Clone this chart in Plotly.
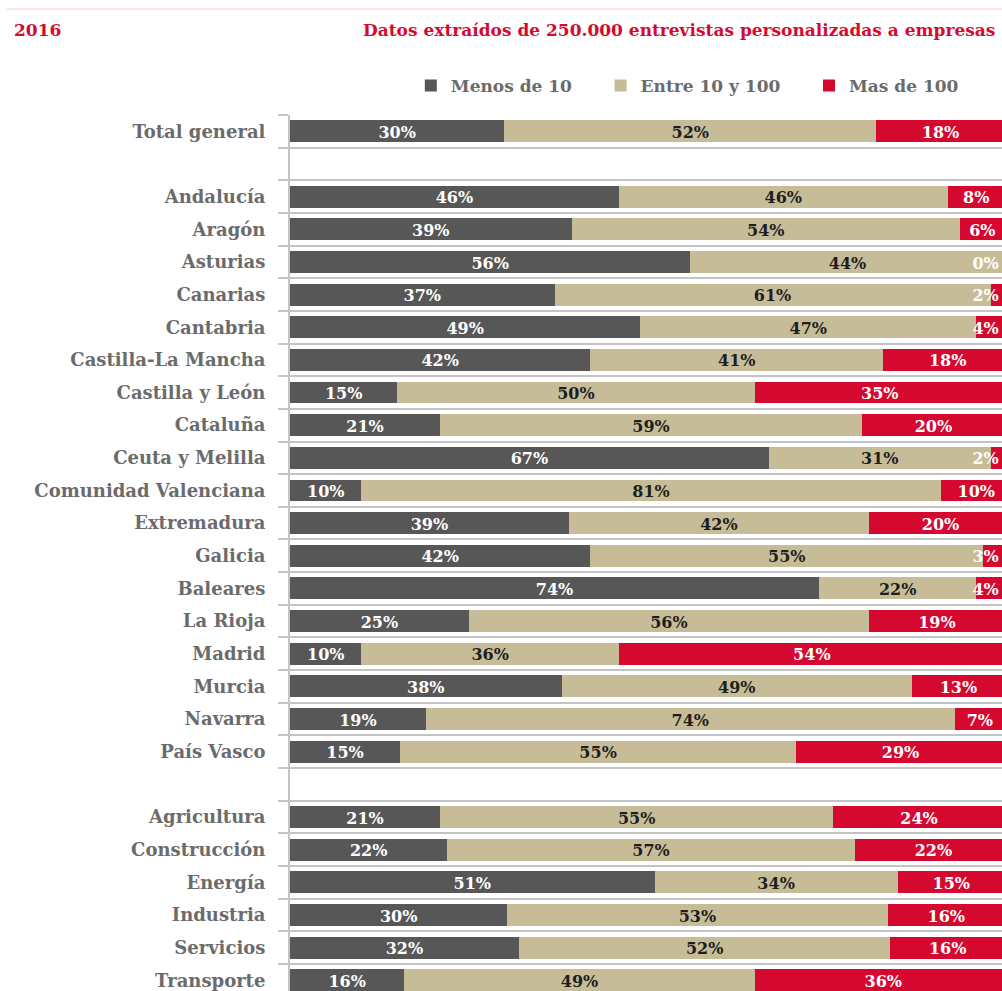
import plotly.graph_objects as go

categories = ["Total general", "", "Andalucía", "Aragón", "Asturias", "Canarias", "Cantabria",
              "Castilla-La Mancha", "Castilla y León", "Cataluña", "Ceuta y Melilla",
              "Comunidad Valenciana", "Extremadura", "Galicia", "Baleares", "La Rioja",
              "Madrid", "Murcia", "Navarra", "País Vasco", "", "Agricultura", "Construcción",
              "Energía", "Industria", "Servicios", "Transporte"]
menos_10 = [30, None, 46, 39.4, 56, 37, 49, 42, 15, 21, 67, 10, 39, 42, 74, 25, 10, 38, 19, 15.4,
            None, 21, 22, 51, 30.4, 32, 16]
entre_10_100 = [52, None, 46, 54.3, 44, 61, 47, 41, 50, 59, 31, 81, 42, 55, 22, 56, 36, 49, 74, 55.4,
                None, 55, 57, 34, 53.2, 52, 49]
mas_100 = [18, None, 8, 6.3, 0, 2, 4, 18, 35, 20, 2, 10, 20, 3, 4, 19, 54, 13, 7, 29.2,
           None, 24, 22, 15, 16.4, 16, 36]
series_names = ["Menos de 10", "Entre 10 y 100", "Mas de 100"]
title_left = "2016"
title_right = "Datos extraídos de 250.000 entrevistas personalizadas a empresas"

colors = ["#575757", "#c6bd98", "#d5082f"]
text_colors = ["#ffffff", "#1e1e1e", "#ffffff"]
FONT = "DejaVu Serif"
W, H = 1002, 991
ML, MT = 290, 115

rows = list(range(len(categories)))
series = [menos_10, entre_10_100, mas_100]

fig = go.Figure()
pad = "\u00a0" * 4
for name, vals, col in zip(series_names, series, colors):
    fig.add_trace(go.Bar(
        y=rows, x=vals, orientation="h", name=name + pad,
        marker=dict(color=col, line=dict(width=0)), width=0.67,
        hoverinfo="skip",
    ))

# labels centred in each segment (kept within the visible plot)
XMAX = 99.6
LABEL_MAX = 97.3
for si, (vals, tc) in enumerate(zip(series, text_colors)):
    xs, ys, ts = [], [], []
    for r in rows:
        v = vals[r]
        if v is None:
            continue
        start = sum(series[k][r] for k in range(si))
        mid = min(start + v / 2.0, LABEL_MAX)
        xs.append(mid)
        ys.append(r + 0.08)
        ts.append(f"{round(v)}%")
    fig.add_trace(go.Scatter(
        x=xs, y=ys, text=ts, mode="text", showlegend=False, hoverinfo="skip",
        textfont=dict(family=FONT, size=16, color=tc, weight="bold"),
        cliponaxis=False,
    ))

plot_h = H - MT
row_px = 32.65
y_bottom = -0.5 + plot_h / row_px

fig.update_layout(
    width=W, height=H,
    margin=dict(l=ML, r=0, t=MT, b=0, pad=0),
    plot_bgcolor="white", paper_bgcolor="white",
    barmode="stack", bargap=0.33,
    showlegend=True,
    legend=dict(
        orientation="h", xref="container", yref="container",
        x=0.41, y=(H - 86) / H, xanchor="left", yanchor="middle",
        font=dict(family=FONT, size=17, color="#6b6b6b", weight="bold"),
        traceorder="normal", bgcolor="rgba(0,0,0,0)",
    ),
    xaxis=dict(range=[0, XMAX], showgrid=False, zeroline=False, showticklabels=False,
               showline=False, ticks="", fixedrange=True),
    yaxis=dict(
        range=[y_bottom, -0.5], tickmode="array", tickvals=rows, ticktext=categories,
        showgrid=False, zeroline=False, ticks="", ticklabelstandoff=19,
        tickfont=dict(family=FONT, size=18, color="#6b6b6b", weight="bold"),
        showline=True, linecolor="#c4c4c4", linewidth=2,
        minor=dict(tick0=0.5, dtick=1, showgrid=True, gridcolor="#c4c4c4", gridwidth=2,
                   ticks="outside", ticklen=10, tickcolor="#c4c4c4", tickwidth=2),
    ),
)

plot_w = W - ML
fig.add_annotation(
    text=title_left, xref="paper", yref="paper",
    x=(12 - ML) / plot_w, y=(H - 30) / plot_h, xanchor="left", yanchor="middle",
    showarrow=False, font=dict(family=FONT, size=17, color="#d8092f", weight="bold"),
)
fig.add_annotation(
    text=title_right, xref="paper", yref="paper",
    x=(997 - ML) / plot_w, y=(H - 30) / plot_h, xanchor="right", yanchor="middle",
    showarrow=False, font=dict(family=FONT, size=17, color="#d8092f", weight="bold"),
)
fig.add_shape(
    type="line", xref="paper", yref="paper",
    x0=(7 - ML) / plot_w, x1=1.0, y0=(H - 9) / plot_h, y1=(H - 9) / plot_h,
    line=dict(color="#f5c6d0", width=1),
)

fig.write_html("out.html", config={"displayModeBar": False},
               post_script="document.body.style.margin='0px';document.body.style.overflow='hidden';")
